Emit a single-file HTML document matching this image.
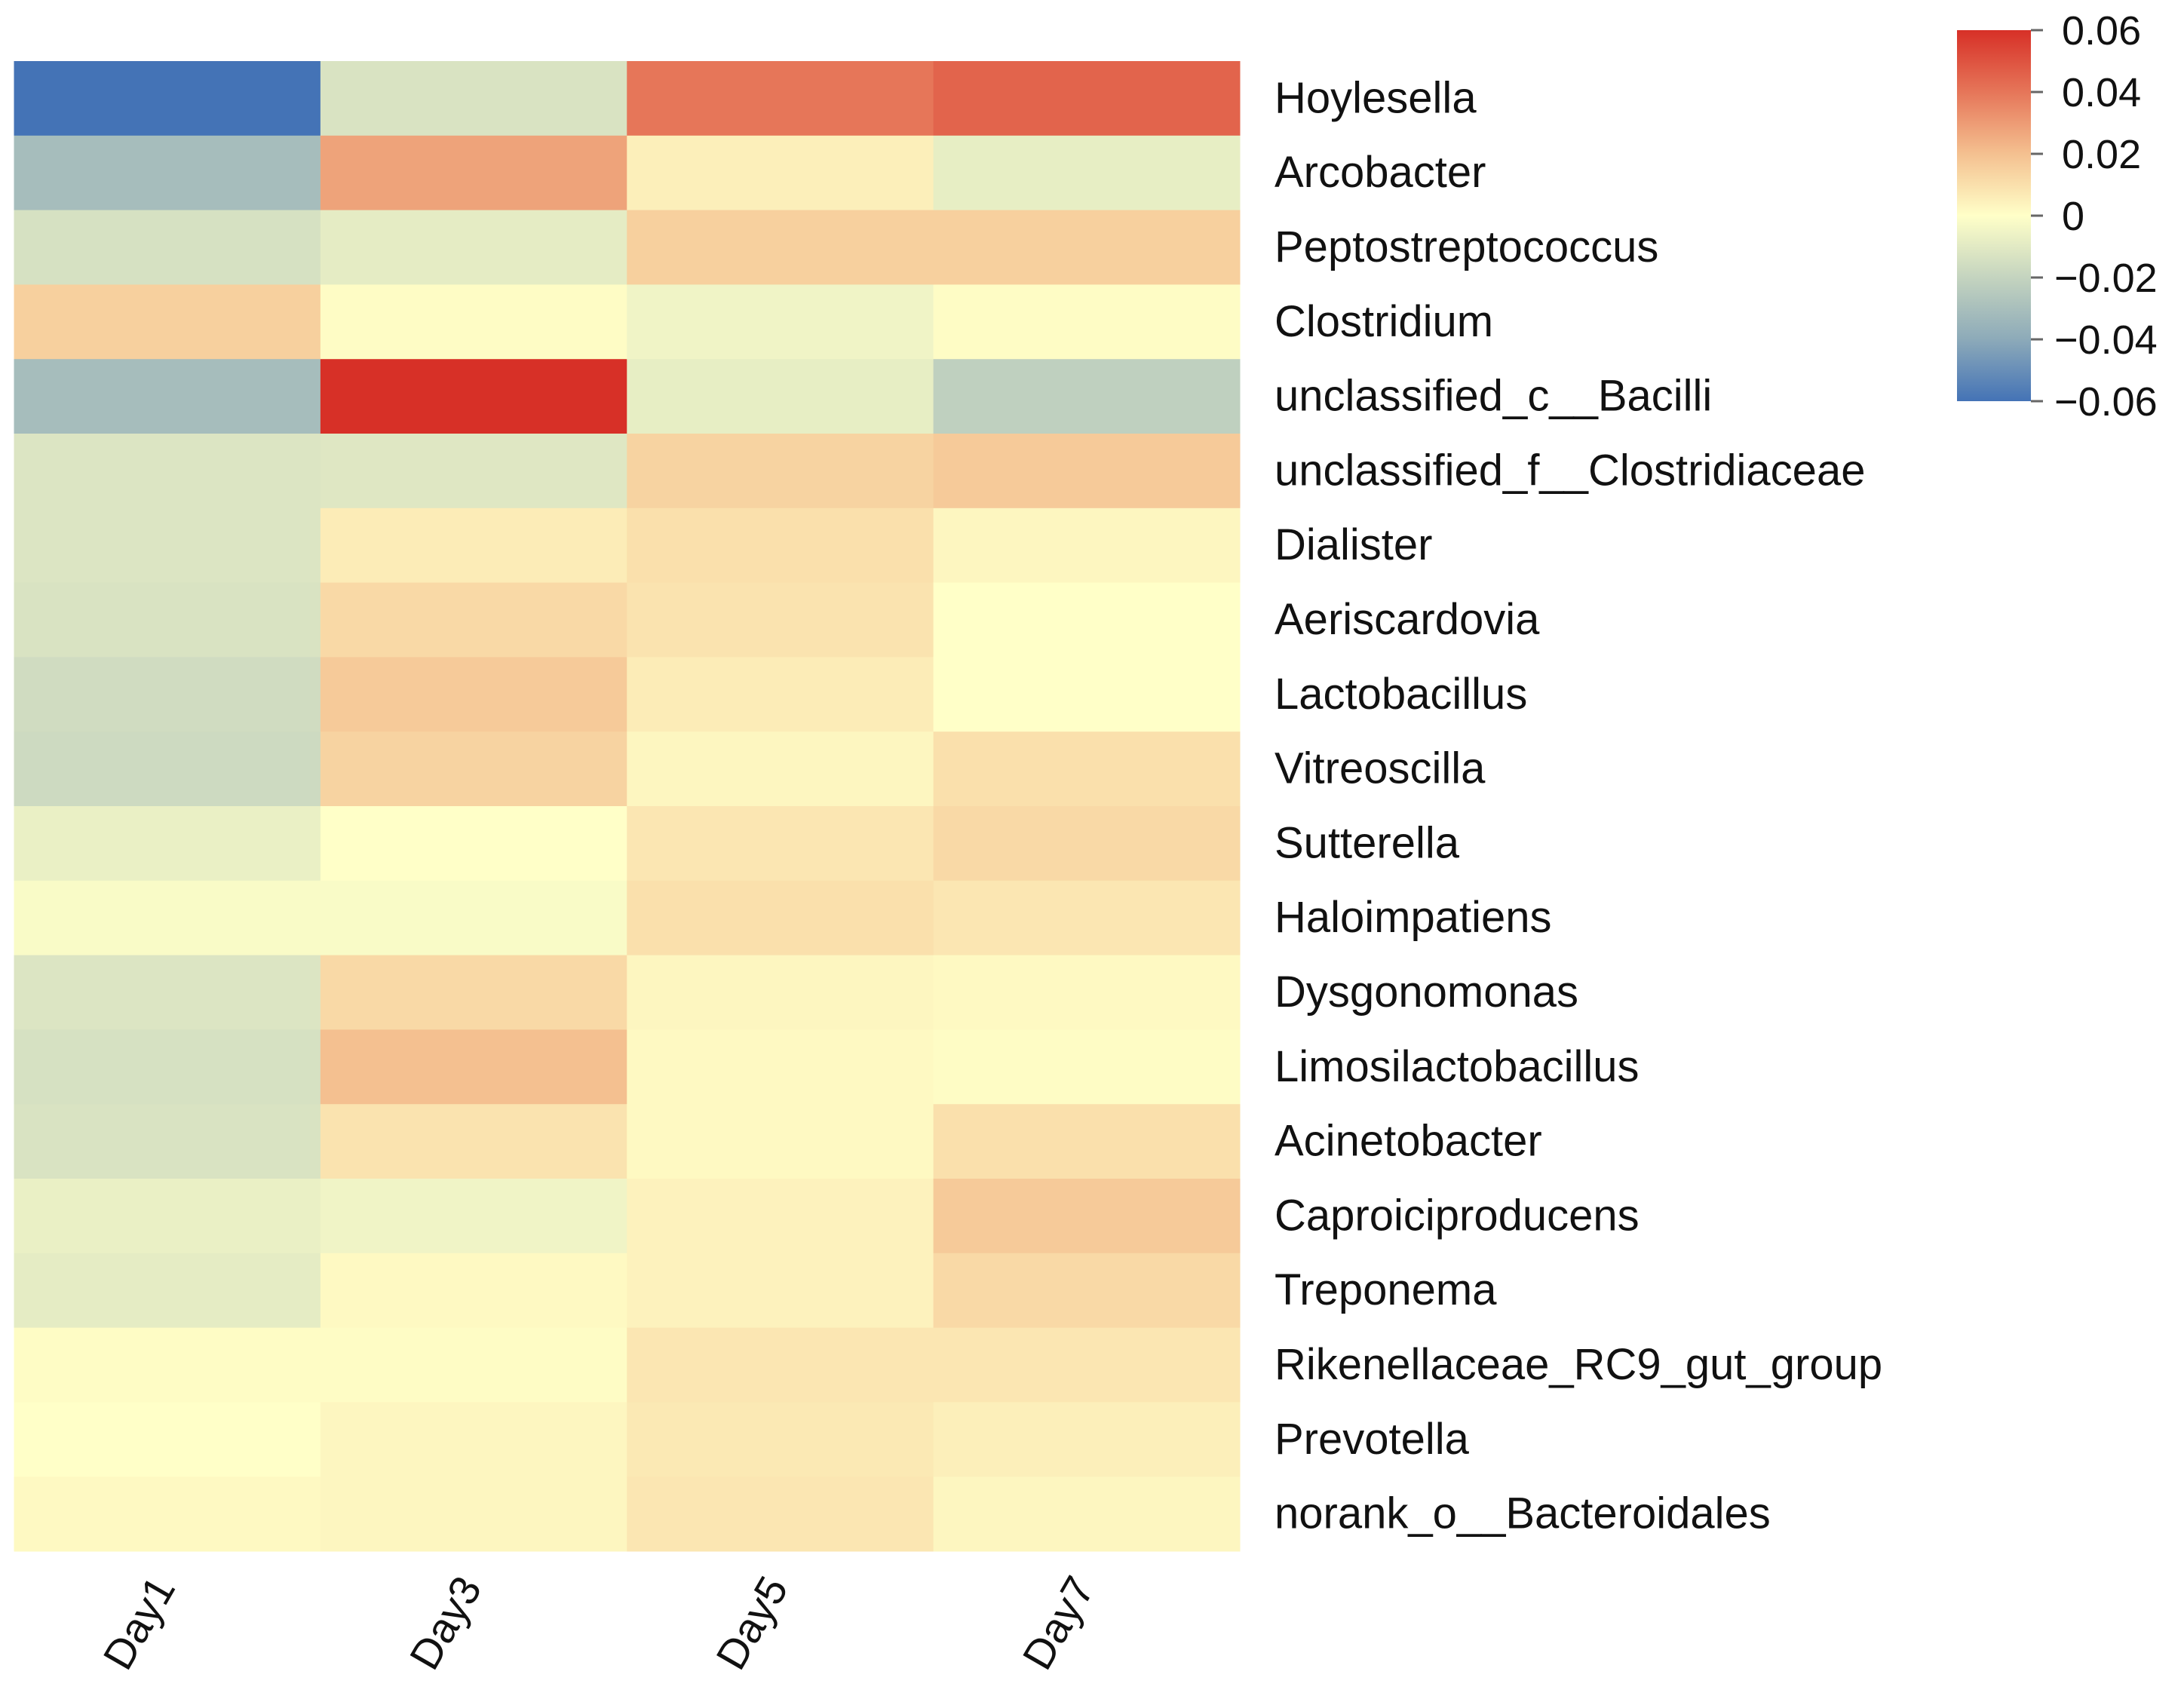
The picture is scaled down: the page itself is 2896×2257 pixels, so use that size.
<!DOCTYPE html>
<html><head><meta charset="utf-8"><style>
html,body{margin:0;padding:0;background:#fff;}
svg text{font-family:"Liberation Sans","DejaVu Sans",sans-serif;fill:#111;}
</style></head><body>
<svg id="chart" width="2896" height="2252" xmlns="http://www.w3.org/2000/svg">
<defs>
<linearGradient id="cbgrad" x1="0" y1="1" x2="0" y2="0">
<stop offset="0" stop-color="#4473b6"/>
<stop offset="0.17" stop-color="#8eabb9"/>
<stop offset="0.33" stop-color="#c3d3bf"/>
<stop offset="0.5" stop-color="#ffffc8"/>
<stop offset="0.67" stop-color="#f4bf8f"/>
<stop offset="0.83" stop-color="#e6775a"/>
<stop offset="1" stop-color="#d73027"/>
</linearGradient>
</defs>
<g id="cells"></g>
<g id="rowlabels"></g>
<g id="collabels"></g>
<g id="colorbar">
<rect x="2595" y="40" width="98" height="492" fill="url(#cbgrad)"/>
</g>
</svg>
<script>
const columns = ["Day1","Day3","Day5","Day7"];
const rows = ["Hoylesella","Arcobacter","Peptostreptococcus","Clostridium","unclassified_c__Bacilli","unclassified_f__Clostridiaceae","Dialister","Aeriscardovia","Lactobacillus","Vitreoscilla","Sutterella","Haloimpatiens","Dysgonomonas","Limosilactobacillus","Acinetobacter","Caproiciproducens","Treponema","Rikenellaceae_RC9_gut_group","Prevotella","norank_o__Bacteroidales"];
const day1 = [-0.06,-0.031,-0.014,0.015,-0.031,-0.012,-0.012,-0.013,-0.016,-0.017,-0.007,-0.002,-0.012,-0.014,-0.013,-0.007,-0.009,0.001,0.0,0.002];
const day3 = [-0.013,0.028,-0.009,0.001,0.06,-0.011,0.006,0.012,0.017,0.014,0.0,-0.002,0.012,0.02,0.009,-0.005,0.002,0.001,0.003,0.003];
const day5 = [0.04,0.005,0.015,-0.005,-0.008,0.014,0.01,0.009,0.006,0.003,0.008,0.01,0.003,0.002,0.002,0.004,0.004,0.008,0.007,0.008];
const day7 = [0.045,-0.008,0.015,0.001,-0.022,0.017,0.003,0.0,0.0,0.01,0.012,0.008,0.002,0.001,0.01,0.017,0.012,0.008,0.005,0.003];
const series = [day1,day3,day5,day7];
const ticks = [0.06,0.04,0.02,0,-0.02,-0.04,-0.06];
const tickLabels = ["0.06","0.04","0.02","0","\u22120.02","\u22120.04","\u22120.06"];

const NS="http://www.w3.org/2000/svg";
const X0=18.5, X1=1644, Y0=81, Y1=2057;
const cw=(X1-X0)/columns.length, rh=(Y1-Y0)/rows.length;
const xPos=i=>X0+i*cw, yPos=j=>Y0+j*rh;
const vmin=-0.06, vmax=0.06;
const stops=[[0,[68,115,182]],[0.17,[142,171,185]],[0.33,[195,211,191]],[0.5,[255,255,200]],[0.67,[244,191,143]],[0.83,[230,119,90]],[1,[215,48,39]]];
function color(v){
  let t=(v-vmin)/(vmax-vmin); t=Math.max(0,Math.min(1,t));
  for(let k=1;k<stops.length;k++){
    if(t<=stops[k][0]){
      const a=stops[k-1],b=stops[k],f=(t-a[0])/(b[0]-a[0]);
      const c=a[1].map((x,i)=>Math.round(x+(b[1][i]-x)*f));
      return `rgb(${c[0]},${c[1]},${c[2]})`;
    }
  }
  return "rgb(215,48,39)";
}
const cells=document.getElementById('cells');
series.forEach((s,i)=>{
  s.forEach((v,j)=>{
    const r=document.createElementNS(NS,'rect');
    r.setAttribute('x',xPos(i));r.setAttribute('y',yPos(j));
    r.setAttribute('width',cw+0.5);r.setAttribute('height',rh+0.5);
    r.setAttribute('fill',color(v));
    
    
    cells.appendChild(r);
  });
});
const rl=document.getElementById('rowlabels');
rows.forEach((name,j)=>{
  const t=document.createElementNS(NS,'text');
  t.setAttribute('x',1690);t.setAttribute('y',yPos(j)+rh/2+19);
  t.setAttribute('font-size','58');
  t.textContent=name;
  
  
  rl.appendChild(t);
});
const cl=document.getElementById('collabels');
columns.forEach((name,i)=>{
  const t=document.createElementNS(NS,'text');
  const x=xPos(i)+cw/2+12, y=2105;
  t.setAttribute('x',x);t.setAttribute('y',y);
  t.setAttribute('font-size','56');
  t.setAttribute('text-anchor','end');
  t.setAttribute('transform',`rotate(-60 ${x} ${y})`);
  t.textContent=name;
  
  
  cl.appendChild(t);
});
const cb=document.getElementById('colorbar');
const cbY=v=>40+(vmax-v)/(vmax-vmin)*492;
ticks.forEach((v,k)=>{
  const l=document.createElementNS(NS,'line');
  l.setAttribute('x1',2693);l.setAttribute('x2',2709);
  l.setAttribute('y1',cbY(v));l.setAttribute('y2',cbY(v));
  l.setAttribute('stroke','#666');l.setAttribute('stroke-width','3');
  
  
  cb.appendChild(l);
  const t=document.createElementNS(NS,'text');
  t.setAttribute('x',v<0?2724:2734);t.setAttribute('y',cbY(v)+19);
  t.setAttribute('font-size','54');
  t.textContent=tickLabels[k];
  
  
  cb.appendChild(t);
});
</script>
</body></html>
